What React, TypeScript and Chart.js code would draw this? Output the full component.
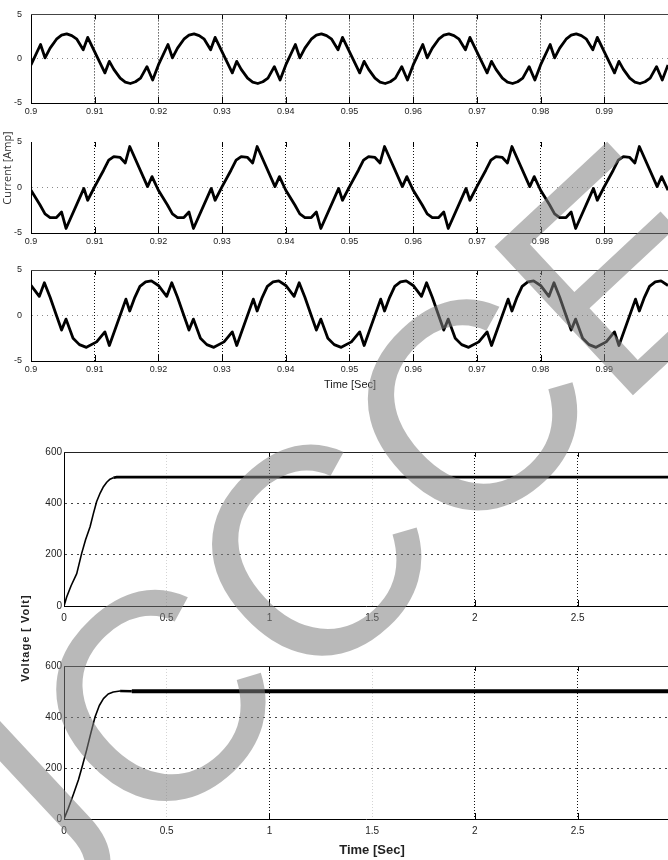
import React, { useEffect, useRef } from 'react';
import { Chart, registerables } from 'chart.js';
Chart.register(...registerables);

// ---------- axis ticks ----------
const CUR_X_TICKS = [0.9, 0.91, 0.92, 0.93, 0.94, 0.95, 0.96, 0.97, 0.98, 0.99];
const CUR_X_LABELS = ['0.9', '0.91', '0.92', '0.93', '0.94', '0.95', '0.96', '0.97', '0.98', '0.99'];
const CUR_Y_TICKS = [-5, 0, 5];
const CUR_Y_LABELS = ['-5', '0', '5'];
const CUR_X_MIN = 0.9;
const CUR_X_MAX = 1.0;

const VOLT_X_TICKS = [0, 0.5, 1, 1.5, 2, 2.5];
const VOLT_X_LABELS = ['0', '0.5', '1', '1.5', '2', '2.5'];
const VOLT_Y_TICKS = [0, 200, 400, 600];
const VOLT_Y_LABELS = ['0', '200', '400', '600'];
const VOLT_X_MIN = 0;
const VOLT_X_MAX = 2.94;

// ---------- current waveforms [time s, current A] ----------
const CURRENT_A: number[][] = [
  [0.9000, -0.7], [0.9015, 1.6], [0.9022, 0.1], [0.9030, 1.2], [0.9040, 2.2], [0.9048, 2.65], [0.9056, 2.8], [0.9064, 2.6], [0.9072, 2.2], [0.9082, 1.0], [0.9089, 2.4], [0.9116, -1.6], [0.9123, -0.3], [0.9130, -1.2], [0.9140, -2.2], [0.9148, -2.65], [0.9156, -2.8], [0.9164, -2.6], [0.9172, -2.2], [0.9182, -0.9], [0.9191, -2.4],
  [0.9200, -0.7], [0.9215, 1.6], [0.9222, 0.1], [0.9230, 1.2], [0.9240, 2.2], [0.9248, 2.65], [0.9256, 2.8], [0.9264, 2.6], [0.9272, 2.2], [0.9282, 1.0], [0.9289, 2.4], [0.9316, -1.6], [0.9323, -0.3], [0.9330, -1.2], [0.9340, -2.2], [0.9348, -2.65], [0.9356, -2.8], [0.9364, -2.6], [0.9372, -2.2], [0.9382, -0.9], [0.9391, -2.4],
  [0.9400, -0.7], [0.9415, 1.6], [0.9422, 0.1], [0.9430, 1.2], [0.9440, 2.2], [0.9448, 2.65], [0.9456, 2.8], [0.9464, 2.6], [0.9472, 2.2], [0.9482, 1.0], [0.9489, 2.4], [0.9516, -1.6], [0.9523, -0.3], [0.9530, -1.2], [0.9540, -2.2], [0.9548, -2.65], [0.9556, -2.8], [0.9564, -2.6], [0.9572, -2.2], [0.9582, -0.9], [0.9591, -2.4],
  [0.9600, -0.7], [0.9615, 1.6], [0.9622, 0.1], [0.9630, 1.2], [0.9640, 2.2], [0.9648, 2.65], [0.9656, 2.8], [0.9664, 2.6], [0.9672, 2.2], [0.9682, 1.0], [0.9689, 2.4], [0.9716, -1.6], [0.9723, -0.3], [0.9730, -1.2], [0.9740, -2.2], [0.9748, -2.65], [0.9756, -2.8], [0.9764, -2.6], [0.9772, -2.2], [0.9782, -0.9], [0.9791, -2.4],
  [0.9800, -0.7], [0.9815, 1.6], [0.9822, 0.1], [0.9830, 1.2], [0.9840, 2.2], [0.9848, 2.65], [0.9856, 2.8], [0.9864, 2.6], [0.9872, 2.2], [0.9882, 1.0], [0.9889, 2.4], [0.9916, -1.6], [0.9923, -0.3], [0.9930, -1.2], [0.9940, -2.2], [0.9948, -2.65], [0.9956, -2.8], [0.9964, -2.6], [0.9972, -2.2], [0.9982, -0.9], [0.9991, -2.4],
  [1.0000, -0.7],
];

const CURRENT_B: number[][] = [
  [0.9000, -0.3], [0.9014, -1.9], [0.9022, -2.9], [0.9030, -3.3], [0.9040, -3.3], [0.9048, -2.7], [0.9055, -4.5], [0.9083, -0.1], [0.9089, -1.4], [0.9100, 0.1], [0.9114, 1.9], [0.9122, 3.0], [0.9130, 3.4], [0.9140, 3.3], [0.9148, 2.7], [0.9155, 4.5], [0.9183, 0.1], [0.9190, 1.2],
  [0.9200, -0.3], [0.9214, -1.9], [0.9222, -2.9], [0.9230, -3.3], [0.9240, -3.3], [0.9248, -2.7], [0.9255, -4.5], [0.9283, -0.1], [0.9289, -1.4], [0.9300, 0.1], [0.9314, 1.9], [0.9322, 3.0], [0.9330, 3.4], [0.9340, 3.3], [0.9348, 2.7], [0.9355, 4.5], [0.9383, 0.1], [0.9390, 1.2],
  [0.9400, -0.3], [0.9414, -1.9], [0.9422, -2.9], [0.9430, -3.3], [0.9440, -3.3], [0.9448, -2.7], [0.9455, -4.5], [0.9483, -0.1], [0.9489, -1.4], [0.9500, 0.1], [0.9514, 1.9], [0.9522, 3.0], [0.9530, 3.4], [0.9540, 3.3], [0.9548, 2.7], [0.9555, 4.5], [0.9583, 0.1], [0.9590, 1.2],
  [0.9600, -0.3], [0.9614, -1.9], [0.9622, -2.9], [0.9630, -3.3], [0.9640, -3.3], [0.9648, -2.7], [0.9655, -4.5], [0.9683, -0.1], [0.9689, -1.4], [0.9700, 0.1], [0.9714, 1.9], [0.9722, 3.0], [0.9730, 3.4], [0.9740, 3.3], [0.9748, 2.7], [0.9755, 4.5], [0.9783, 0.1], [0.9790, 1.2],
  [0.9800, -0.3], [0.9814, -1.9], [0.9822, -2.9], [0.9830, -3.3], [0.9840, -3.3], [0.9848, -2.7], [0.9855, -4.5], [0.9883, -0.1], [0.9889, -1.4], [0.9900, 0.1], [0.9914, 1.9], [0.9922, 3.0], [0.9930, 3.4], [0.9940, 3.3], [0.9948, 2.7], [0.9955, 4.5], [0.9983, 0.1], [0.9990, 1.2],
  [1.0000, -0.3],
];

const CURRENT_C: number[][] = [
  [0.9000, 3.3], [0.9013, 2.1], [0.9021, 3.6], [0.9030, 2.0], [0.9040, 0.0], [0.9048, -1.6], [0.9055, -0.4], [0.9066, -2.5], [0.9076, -3.2], [0.9087, -3.5], [0.9103, -2.9], [0.9116, -1.8], [0.9123, -3.3], [0.9149, 1.8], [0.9155, 0.5], [0.9163, 2.0], [0.9171, 3.2], [0.9180, 3.7], [0.9189, 3.8],
  [0.9200, 3.3], [0.9213, 2.1], [0.9221, 3.6], [0.9230, 2.0], [0.9240, 0.0], [0.9248, -1.6], [0.9255, -0.4], [0.9266, -2.5], [0.9276, -3.2], [0.9287, -3.5], [0.9303, -2.9], [0.9316, -1.8], [0.9323, -3.3], [0.9349, 1.8], [0.9355, 0.5], [0.9363, 2.0], [0.9371, 3.2], [0.9380, 3.7], [0.9389, 3.8],
  [0.9400, 3.3], [0.9413, 2.1], [0.9421, 3.6], [0.9430, 2.0], [0.9440, 0.0], [0.9448, -1.6], [0.9455, -0.4], [0.9466, -2.5], [0.9476, -3.2], [0.9487, -3.5], [0.9503, -2.9], [0.9516, -1.8], [0.9523, -3.3], [0.9549, 1.8], [0.9555, 0.5], [0.9563, 2.0], [0.9571, 3.2], [0.9580, 3.7], [0.9589, 3.8],
  [0.9600, 3.3], [0.9613, 2.1], [0.9621, 3.6], [0.9630, 2.0], [0.9640, 0.0], [0.9648, -1.6], [0.9655, -0.4], [0.9666, -2.5], [0.9676, -3.2], [0.9687, -3.5], [0.9703, -2.9], [0.9716, -1.8], [0.9723, -3.3], [0.9749, 1.8], [0.9755, 0.5], [0.9763, 2.0], [0.9771, 3.2], [0.9780, 3.7], [0.9789, 3.8],
  [0.9800, 3.3], [0.9813, 2.1], [0.9821, 3.6], [0.9830, 2.0], [0.9840, 0.0], [0.9848, -1.6], [0.9855, -0.4], [0.9866, -2.5], [0.9876, -3.2], [0.9887, -3.5], [0.9903, -2.9], [0.9916, -1.8], [0.9923, -3.3], [0.9949, 1.8], [0.9955, 0.5], [0.9963, 2.0], [0.9971, 3.2], [0.9980, 3.7], [0.9989, 3.8],
  [1.0000, 3.3],
];

// ---------- DC voltages ----------
const VOLT1_T = [0, 0.013, 0.035, 0.062, 0.086, 0.105, 0.127, 0.143, 0.159, 0.176, 0.192, 0.208, 0.224, 0.240, 0.257, 0.300, 0.400, 2.940];
const VOLT1_V = [0, 35, 80, 126, 205, 258, 309, 360, 407, 440, 465, 482, 494, 500, 502, 502, 502, 502];
const VOLT2_T = [0, 0.021, 0.045, 0.070, 0.090, 0.110, 0.130, 0.151, 0.172, 0.192, 0.215, 0.240, 0.273, 0.330, 0.400, 2.940];
const VOLT2_V = [0, 42, 95, 153, 210, 270, 335, 400, 445, 472, 490, 498, 502, 501, 501, 501];

// ---------- styling / layout ----------
const W = 668;
const TICK_FONT = "'Liberation Sans Narrow', 'Liberation Sans', sans-serif";

type PanelCfg = {
  top: number; h: number; plotTop: number; plotBottom: number; left: number;
  kind: 'cur' | 'volt'; points: { x: number; y: number }[];
  topBorder: boolean; lineWidth: (x: number) => number;
};

function pairs(a: number[][]) { return a.map(([x, y]) => ({ x, y })); }
function zipXY(t: number[], v: number[]) { return t.map((x, i) => ({ x, y: v[i] })); }

const PANELS: PanelCfg[] = [
  { top: 0, h: 122, plotTop: 12, plotBottom: 103, left: 31, kind: 'cur', points: pairs(CURRENT_A), topBorder: true, lineWidth: () => 2.8 },
  { top: 122, h: 130, plotTop: 142, plotBottom: 233, left: 31, kind: 'cur', points: pairs(CURRENT_B), topBorder: false, lineWidth: () => 2.8 },
  { top: 252, h: 168, plotTop: 270, plotBottom: 361, left: 31, kind: 'cur', points: pairs(CURRENT_C), topBorder: true, lineWidth: () => 2.8 },
  { top: 420, h: 220, plotTop: 452, plotBottom: 606, left: 64, kind: 'volt', points: zipXY(VOLT1_T, VOLT1_V), topBorder: true, lineWidth: (x) => (x < 0.24 ? 1.6 : 2.6) },
  { top: 640, h: 220, plotTop: 666, plotBottom: 819, left: 64, kind: 'volt', points: zipXY(VOLT2_T, VOLT2_V), topBorder: true, lineWidth: (x) => (x < 0.25 ? 1.6 : x < 0.33 ? 2.4 : 4) },
];

function drawOverlay(ctx: CanvasRenderingContext2D, offY: number) {
  ctx.save();
  ctx.translate(0, -offY);
  ctx.fillStyle = '#222';
  ctx.textAlign = 'center';
  ctx.textBaseline = 'middle';
  // Current [Amp]
  ctx.save();
  ctx.translate(8, 168);
  ctx.rotate(-Math.PI / 2);
  ctx.font = "11px 'Open Sans', 'Liberation Sans', sans-serif";
  ctx.fillStyle = '#333';
  ctx.fillText('Current [Amp]', 0, 0);
  ctx.restore();
  // Time [Sec] (top group)
  ctx.font = "11px 'Liberation Sans Narrow', 'Liberation Sans', sans-serif";
  ctx.fillText('Time [Sec]', 350, 385);
  // Voltage [ Volt]
  ctx.save();
  ctx.translate(26, 638);
  ctx.rotate(-Math.PI / 2);
  ctx.font = "bold 11px 'Liberation Sans', sans-serif";
  (ctx as any).letterSpacing = '1px';
  ctx.fillText('Voltage [ Volt]', 0, 0);
  ctx.restore();
  // Time [Sec] (bottom)
  ctx.font = "bold 13px 'Liberation Sans Narrow', 'Liberation Sans', sans-serif";
  ctx.fillText('Time [Sec]', 372, 850);
  // watermark
  ctx.save();
  ctx.translate(-20, 1004);
  ctx.rotate(-43 * Math.PI / 180);
  ctx.font = "295px 'Liberation Sans', sans-serif";
  ctx.textAlign = 'left';
  ctx.textBaseline = 'alphabetic';
  ctx.fillStyle = 'rgba(128,128,128,0.55)';
  ctx.fillText('IJCCCE', 0, 0);
  ctx.restore();
  ctx.restore();
}

function Panel({ cfg }: { cfg: PanelCfg }) {
  const ref = useRef<HTMLCanvasElement>(null);
  useEffect(() => {
    const cur = cfg.kind === 'cur';
    const xTicks = cur ? CUR_X_TICKS : VOLT_X_TICKS;
    const xLabels = cur ? CUR_X_LABELS : VOLT_X_LABELS;
    const yTicks = cur ? CUR_Y_TICKS : VOLT_Y_TICKS;
    const yLabels = cur ? CUR_Y_LABELS : VOLT_Y_LABELS;
    const xMin = cur ? CUR_X_MIN : VOLT_X_MIN;
    const xMax = cur ? CUR_X_MAX : VOLT_X_MAX;
    const yMin = yTicks[0];
    const yMax = yTicks[yTicks.length - 1];
    const faint = (v: number) => !cur && (v === 0.5 || v === 1.5);

    const plugin = {
      id: 'frame',
      beforeDatasetsDraw(chart: any) {
        const { ctx, chartArea: a, scales } = chart;
        ctx.save();
        ctx.strokeStyle = '#000';
        ctx.lineWidth = 1;
        ctx.beginPath();
        for (const v of xTicks) {
          if (v === xMin || faint(v)) continue;
          const px = Math.round(scales.x.getPixelForValue(v)) + 0.5;
          ctx.moveTo(px, a.top); ctx.lineTo(px, a.top + 5);
          ctx.moveTo(px, a.bottom); ctx.lineTo(px, a.bottom - 6);
        }
        ctx.stroke();
        if (cfg.topBorder) {
          ctx.strokeStyle = cur ? '#444' : '#222';
          ctx.beginPath();
          ctx.moveTo(a.left, Math.round(a.top) + 0.5);
          ctx.lineTo(a.right, Math.round(a.top) + 0.5);
          ctx.stroke();
        }
        ctx.restore();
      },
      afterDraw(chart: any) {
        drawOverlay(chart.ctx, cfg.top);
      },
    };

    const chart = new Chart(ref.current!, {
      type: 'line',
      data: {
        datasets: [{
          data: cfg.points,
          borderColor: '#000',
          borderWidth: cfg.lineWidth(1),
          segment: { borderWidth: (c: any) => cfg.lineWidth(c.p0.parsed.x) },
          pointRadius: 0,
          tension: 0,
          fill: false,
          borderJoinStyle: 'round',
        } as any],
      },
      plugins: [plugin],
      options: {
        animation: false,
        responsive: false,
        devicePixelRatio: 1,
        events: [],
        layout: { padding: { top: cfg.plotTop - cfg.top, left: 0, right: 0, bottom: 0 } },
        plugins: { legend: { display: false }, tooltip: { enabled: false } },
        scales: {
          x: {
            type: 'linear',
            min: xMin,
            max: xMax,
            afterBuildTicks: (s: any) => { s.ticks = xTicks.map((value) => ({ value })); },
            afterFit: (s: any) => { s.height = cfg.top + cfg.h - cfg.plotBottom; },
            ticks: {
              autoSkip: false,
              maxRotation: 0,
              padding: cur ? 3 : 6,
              color: '#222',
              font: { family: TICK_FONT, size: cur ? 9 : 10 },
              callback: (_v: any, i: number) => xLabels[i],
            },
            grid: {
              drawTicks: false,
              lineWidth: 1,
              color: (c: any) => {
                const v = c.tick ? c.tick.value : NaN;
                if (v === xMin) return 'rgba(0,0,0,0)';
                return faint(v) ? '#d4d4d4' : '#111';
              },
            },
            border: { display: true, color: '#000', width: 1, dash: [1, 2] },
          },
          y: {
            type: 'linear',
            min: yMin,
            max: yMax,
            afterBuildTicks: (s: any) => { s.ticks = yTicks.map((value) => ({ value })); },
            afterFit: (s: any) => { s.width = cfg.left; },
            ticks: {
              padding: cur ? 9 : 2,
              color: '#222',
              font: { family: TICK_FONT, size: cur ? 9 : 10 },
              callback: (_v: any, i: number) => yLabels[i],
            },
            grid: {
              drawTicks: false,
              lineWidth: 1,
              color: (c: any) => {
                const v = c.tick ? c.tick.value : NaN;
                if (v === yMin || v === yMax) return 'rgba(0,0,0,0)';
                return cur ? '#8a8a8a' : '#444';
              },
            },
            border: { display: true, color: '#000', width: 1, dash: cur ? [1, 4] : [2, 4] },
          },
        },
      } as any,
    });
    return () => chart.destroy();
  }, [cfg]);
  return (
    <div style={{ position: 'absolute', left: 0, top: cfg.top, width: W, height: cfg.h }}>
      <canvas ref={ref} width={W} height={cfg.h} style={{ display: 'block', width: W, height: cfg.h }} />
    </div>
  );
}

export default function App() {
  return (
    <div style={{ position: 'absolute', left: 0, top: 0, width: W, height: 860, background: '#fff', overflow: 'hidden' }}>
      {PANELS.map((p, i) => <Panel key={i} cfg={p} />)}
    </div>
  );
}
